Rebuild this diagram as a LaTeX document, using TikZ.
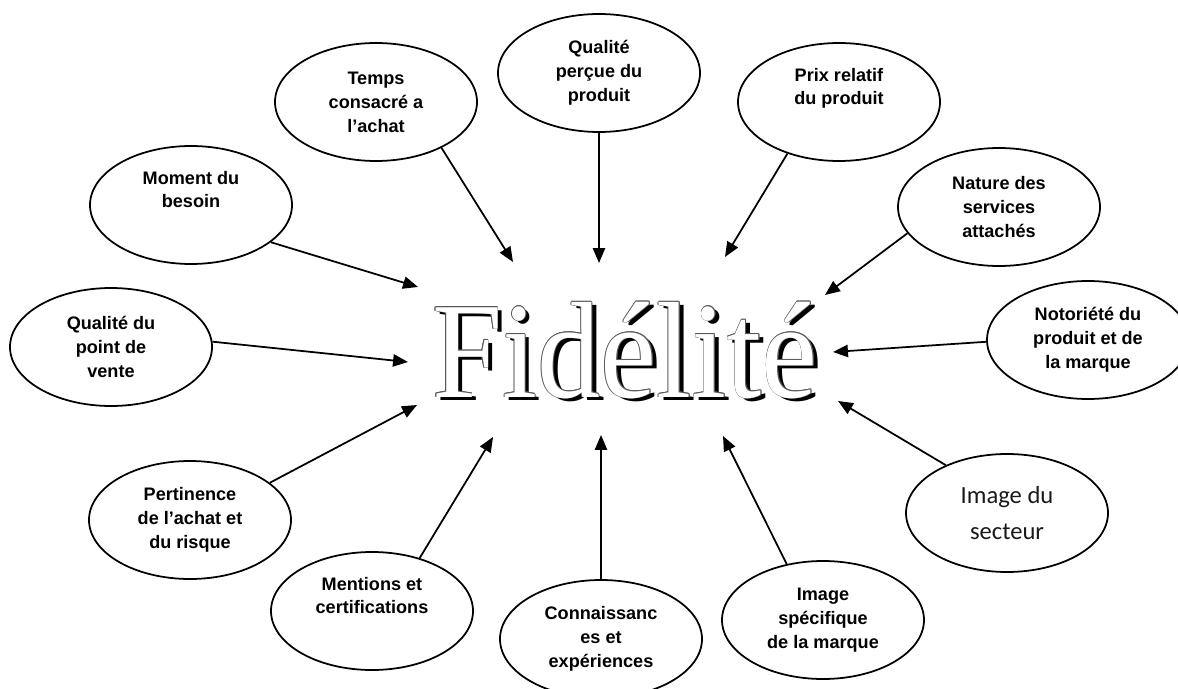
\documentclass[tikz,border=0pt]{standalone}
\usepackage{fontspec}
\setmainfont{Liberation Sans}
\newfontfamily\fidfont{Liberation Serif}
\newfontfamily\secfont{Carlito}
\usetikzlibrary{arrows.meta,shapes.geometric}
\newcommand{\fidword}{\scalebox{0.92}[1]{Fidélité}}

\begin{document}
\begin{tikzpicture}[
        cause/.style={draw,ellipse,line width=1pt,minimum width=4.04cm,minimum height=2.36cm,inner sep=0pt,align=center,font=\bfseries\fontsize{10.3}{13.6}\selectfont},
        fidtext/.style={inner sep=0pt,anchor=base,font=\fidfont\fontsize{78}{80}\selectfont},
        link/.style={line width=1pt,-{Triangle[length=8.5pt,width=7pt]}}
    ]
        \fill[white] (0,0) rectangle (23.56,13.76);
        \useasboundingbox (0,0) rectangle (23.56,13.76);

        \node[fidtext,text=black] (fidshadow) at (12.59,5.75) {\fidword};
        \node[fidtext,text=black!65,xshift=0.35pt] (fidol1) at (12.5,5.82) {\fidword};
        \node[fidtext,text=black!65,xshift=-0.35pt] (fidol2) at (12.5,5.82) {\fidword};
        \node[fidtext,text=black!65,yshift=0.35pt] (fidol3) at (12.5,5.82) {\fidword};
        \node[fidtext,text=black!65,yshift=-0.35pt] (fidol4) at (12.5,5.82) {\fidword};
        \node[fidtext,text=black!65,xshift=0.25pt,yshift=0.25pt] (fidol5) at (12.5,5.82) {\fidword};
        \node[fidtext,text=black!65,xshift=-0.25pt,yshift=0.25pt] (fidol6) at (12.5,5.82) {\fidword};
        \node[fidtext,text=black!65,xshift=0.25pt,yshift=-0.25pt] (fidol7) at (12.5,5.82) {\fidword};
        \node[fidtext,text=black!65,xshift=-0.25pt,yshift=-0.25pt] (fidol8) at (12.5,5.82) {\fidword};
        \node[fidtext,text=white] (fid) at (12.5,5.82) {\fidword};

        \node[cause] (temps) at (7.52,11.72) {Temps\\consacré a\\l’achat};
        \node[cause] (qualprod) at (11.98,12.30) {Qualité\\perçue du\\produit};
        \node[cause] (prix) at (16.78,11.72) {Prix relatif\\du produit\\\strut};
        \node[cause] (services) at (19.98,9.62) {Nature des\\services\\attachés};
        \node[cause] (notoriete) at (21.76,6.96) {Notoriété du\\produit et de\\la marque};
        \node[cause,font=\secfont\fontsize{14}{20.4}\selectfont,text=black!90] (secteur) at (20.14,3.50) {Image du\\secteur};
        \node[cause] (imgmarque) at (16.46,1.36) {Image\\spécifique\\de la marque};
        \node[cause] (connais) at (12.02,0.98) {Connaissanc\\es et\\expériences};
        \node[cause] (mentions) at (7.44,1.54) {Mentions et\\certifications\\\strut};
        \node[cause] (pertinence) at (3.80,3.36) {Pertinence\\de l’achat et\\du risque};
        \node[cause] (pointvente) at (2.22,6.82) {Qualité du\\point de\\vente};
        \node[cause] (moment) at (3.82,9.66) {Moment du\\besoin\\\strut};

        \coordinate (ttemps) at (10.26,8.52);
        \coordinate (tqualprod) at (11.98,8.50);
        \coordinate (tprix) at (14.50,8.62);
        \coordinate (tservices) at (16.50,7.86);
        \coordinate (tnotoriete) at (16.66,6.72);
        \coordinate (tsecteur) at (16.76,5.74);
        \coordinate (timgmarque) at (14.46,5.04);
        \coordinate (tconnais) at (12.02,5.06);
        \coordinate (tmentions) at (9.86,5.02);
        \coordinate (tpertinence) at (8.34,5.66);
        \coordinate (tpointvente) at (8.16,6.52);
        \coordinate (tmoment) at (8.36,8.02);

        \draw[link] (temps.-35.5) -- (ttemps);
        \draw[link] (qualprod.south) -- (tqualprod);
        \draw[link] (prix.-135) -- (tprix);
        \draw[link] (services.196) -- (tservices);
        \draw[link] (notoriete.181) -- (tnotoriete);
        \draw[link] (secteur.142) -- (tsecteur);
        \draw[link] (imgmarque.123) -- (timgmarque);
        \draw[link] (connais.north) -- (tconnais);
        \draw[link] (mentions.48) -- (tmentions);
        \draw[link] (pertinence.25) -- (tpertinence);
        \draw[link] (pointvente.3) -- (tpointvente);
        \draw[link] (moment.-25) -- (tmoment);
    \end{tikzpicture}
\end{document}
